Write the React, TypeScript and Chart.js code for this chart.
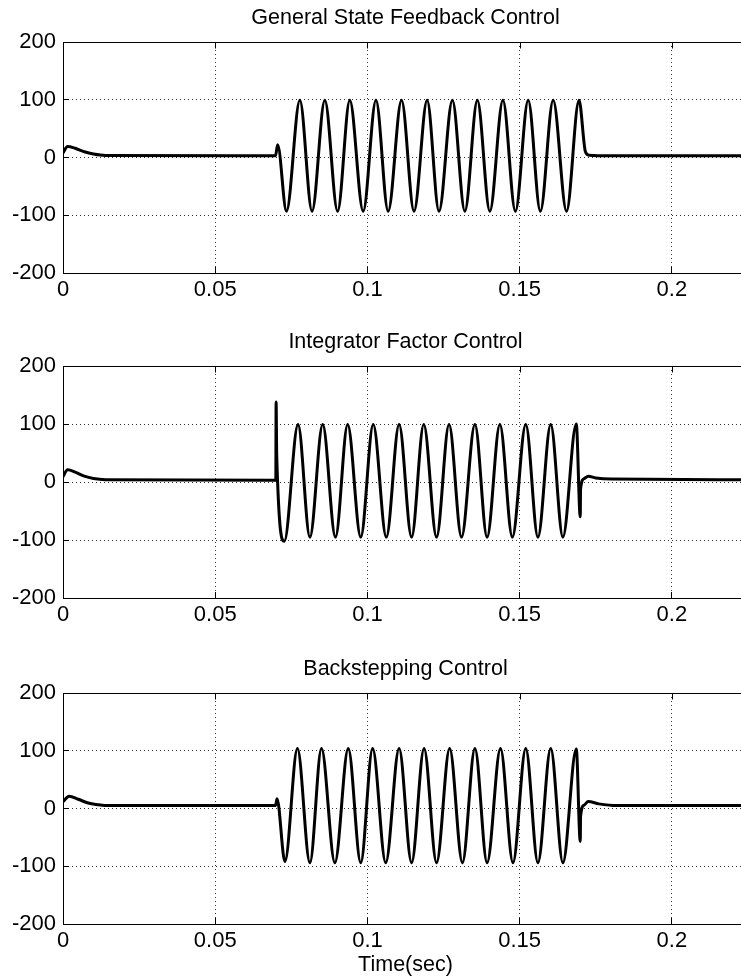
import React, { useEffect, useRef } from "react";
import { Chart, registerables } from "chart.js";

Chart.register(...registerables);

const FONT = '"Liberation Sans", Arial, Helvetica, sans-serif';

// Axis ranges and ticks
const X_MIN = 0;
const X_MAX = 0.225;
const Y_MIN = -200;
const Y_MAX = 200;
const xTickValues = [0, 0.05, 0.1, 0.15, 0.2];
const xTickLabels = ["0", "0.05", "0.1", "0.15", "0.2"];
const yTickValues = [-200, -100, 0, 100, 200];
const yTickLabels = ["-200", "-100", "0", "100", "200"];

const panelTitles = [
  "General State Feedback Control",
  "Integrator Factor Control",
  "Backstepping Control",
];
const xAxisTitle = "Time(sec)";

// Panel 1: General State Feedback Control
const timeGSF = [
  0, 0.0015, 0.004, 0.007, 0.01, 0.014, 0.0698, 0.0705,
  0.0734, 0.0778, 0.0818, 0.086, 0.0902, 0.0942, 0.0986, 0.1028,
  0.1068, 0.1112, 0.1153, 0.1196, 0.1235, 0.1279, 0.132, 0.1361,
  0.1402, 0.1445, 0.1486, 0.1528, 0.1568, 0.161, 0.1654, 0.1695,
  0.1716, 0.1728, 0.18, 0.225,
];
const valueGSF = [
  8, 19, 16, 10, 6, 3.5, 3, 22,
  -93, 99, -93, 99, -93, 99, -93, 99,
  -93, 99, -93, 99, -93, 99, -93, 99,
  -93, 99, -93, 99, -93, 99, -93, 99,
  10, 4, 3, 3,
];

// Panel 2: Integrator Factor Control
const timeIFC = [
  0, 0.0015, 0.004, 0.007, 0.01, 0.014, 0.0699, 0.07, 0.0702, 0.0727,
  0.0772, 0.0811, 0.0853, 0.0895, 0.0935, 0.0978, 0.1019, 0.1062,
  0.1104, 0.1145, 0.1185, 0.1227, 0.1268, 0.1309, 0.1353, 0.1393,
  0.1435, 0.1476, 0.152, 0.156, 0.1602, 0.1642, 0.1686,
  0.1699, 0.17, 0.1712, 0.1725, 0.175, 0.18, 0.225,
];
const valueIFC = [
  9, 21, 17, 10, 6, 4, 3, 138, 45, -102,
  99, -95, 99, -95, 99, -95, 99, -95,
  99, -95, 99, -95, 99, -95, 99, -95,
  99, -95, 99, -95, 99, -95, 100,
  -60, -12, 6, 10, 7, 5, 4,
];

// Panel 3: Backstepping Control
const timeBSC = [
  0, 0.002, 0.005, 0.008, 0.011, 0.0137, 0.0698, 0.0703,
  0.0729, 0.077, 0.0811, 0.0849, 0.0893, 0.0937, 0.0978, 0.1017,
  0.106, 0.1104, 0.1145, 0.1186, 0.1227, 0.127, 0.1312, 0.1353,
  0.1393, 0.1437, 0.1478, 0.152, 0.156, 0.1602, 0.1642, 0.1686,
  0.1699, 0.17, 0.1712, 0.1725, 0.176, 0.182, 0.225,
];
const valueBSC = [
  12, 21, 16, 10, 7, 5, 5, 17,
  -92, 104, -94, 104, -94, 104, -94, 104,
  -94, 104, -94, 104, -94, 104, -94, 104,
  -94, 104, -94, 104, -94, 104, -94, 103,
  -57, -14, 6, 12, 8, 5, 5,
];

const CANVAS_W = 760;
const PLOT_LEFT = 63;
const PLOT_RIGHT = 748;
const TOP_BAND = 42;

// Frame (solid box round the plot) plus inward ticks on the top edge,
// and the panel title centred over the plot area like MATLAB does.
const framePlugin = {
  id: "frame",
  afterDraw(chart: any, _args: any, opts: any) {
    const { ctx, chartArea: a, scales } = chart;
    ctx.save();
    ctx.strokeStyle = "#000";
    ctx.lineWidth = 1;
    ctx.setLineDash([]);
    const l = Math.round(a.left) + 0.5;
    const t = Math.round(a.top) + 0.5;
    const r = Math.round(a.right) + 0.5;
    const b = Math.round(a.bottom) + 0.5;
    ctx.beginPath();
    ctx.moveTo(l, b);
    ctx.lineTo(l, t);
    ctx.lineTo(r, t);
    ctx.lineTo(r, b);
    ctx.lineTo(l, b);
    ctx.stroke();
    for (const tk of scales.x.ticks) {
      const px = Math.round(scales.x.getPixelForValue(tk.value)) + 0.5;
      ctx.beginPath();
      ctx.moveTo(px, t);
      ctx.lineTo(px, t + 6);
      ctx.stroke();
    }
    if (opts && opts.text) {
      ctx.fillStyle = "#000";
      ctx.font = `21.5px ${FONT}`;
      ctx.textAlign = "center";
      ctx.textBaseline = "middle";
      ctx.fillText(opts.text, (a.left + a.right) / 2, a.top - 24);
    }
    ctx.restore();
  },
};

type PanelProps = {
  top: number;
  plotHeight: number;
  axisHeight: number;
  title: string;
  times: number[];
  values: number[];
  showXTitle: boolean;
};

function Panel({ top, plotHeight, axisHeight, title, times, values, showXTitle }: PanelProps) {
  const ref = useRef<HTMLCanvasElement>(null);
  const height = TOP_BAND + plotHeight + axisHeight;

  useEffect(() => {
    const chart = new Chart(ref.current as HTMLCanvasElement, {
      type: "line",
      data: {
        datasets: [
          {
            data: times.map((t, i) => ({ x: t, y: values[i] })),
            borderColor: "#000",
            borderWidth: 3,
            pointRadius: 0,
            cubicInterpolationMode: "monotone",
            fill: false,
          } as any,
        ],
      },
      options: {
        animation: false,
        responsive: false,
        maintainAspectRatio: false,
        events: [],
        layout: { padding: { left: 0, right: CANVAS_W - PLOT_RIGHT, top: TOP_BAND, bottom: 0 } },
        plugins: {
          legend: { display: false },
          tooltip: { enabled: false },
          title: { display: false },
          frame: { text: title },
        },
        scales: {
          x: {
            type: "linear",
            min: X_MIN,
            max: X_MAX,
            afterBuildTicks: (s: any) => {
              s.ticks = xTickValues.map((v) => ({ value: v }));
            },
            afterFit: (s: any) => {
              s.height = axisHeight;
            },
            ticks: {
              autoSkip: false,
              maxRotation: 0,
              color: "#000",
              padding: 10,
              font: { family: FONT, size: 22, lineHeight: 1.2 },
              callback: (_v: any, i: number) => xTickLabels[i],
            },
            grid: {
              color: "#333",
              lineWidth: 1,
              drawTicks: true,
              tickLength: -6,
              tickColor: "#000",
              tickWidth: 1,
            },
            border: { display: true, color: "#000", width: 1, dash: [1, 3] },
            title: showXTitle
              ? {
                  display: true,
                  text: xAxisTitle,
                  color: "#000",
                  font: { family: FONT, size: 21.5, lineHeight: 1.2 },
                  padding: { top: 0, bottom: 2.1 },
                }
              : { display: false },
          },
          y: {
            type: "linear",
            min: Y_MIN,
            max: Y_MAX,
            afterBuildTicks: (s: any) => {
              s.ticks = yTickValues.map((v) => ({ value: v }));
            },
            afterFit: (s: any) => {
              s.width = PLOT_LEFT;
            },
            ticks: {
              color: "#000",
              padding: 13,
              font: { family: FONT, size: 22, lineHeight: 1.2 },
              callback: (_v: any, i: number) => yTickLabels[i],
            },
            grid: {
              color: "#333",
              lineWidth: 1,
              drawTicks: true,
              tickLength: -6,
              tickColor: "#000",
              tickWidth: 1,
            },
            border: { display: true, color: "#000", width: 1, dash: [1, 3] },
          },
        },
      } as any,
      plugins: [framePlugin],
    });
    return () => chart.destroy();
  }, []);

  return (
    <canvas
      ref={ref}
      width={CANVAS_W}
      height={height}
      style={{ position: "absolute", left: 0, top, width: CANVAS_W, height }}
    />
  );
}

export default function App() {
  return (
    <div
      style={{
        position: "absolute",
        left: 0,
        top: 0,
        width: 741,
        height: 980,
        overflow: "hidden",
        background: "#fff",
      }}
    >
      <Panel top={0} plotHeight={231} axisHeight={47} title={panelTitles[0]} times={timeGSF} values={valueGSF} showXTitle={false} />
      <Panel top={324} plotHeight={232} axisHeight={47} title={panelTitles[1]} times={timeIFC} values={valueIFC} showXTitle={false} />
      <Panel top={651} plotHeight={231} axisHeight={56} title={panelTitles[2]} times={timeBSC} values={valueBSC} showXTitle={true} />
    </div>
  );
}
